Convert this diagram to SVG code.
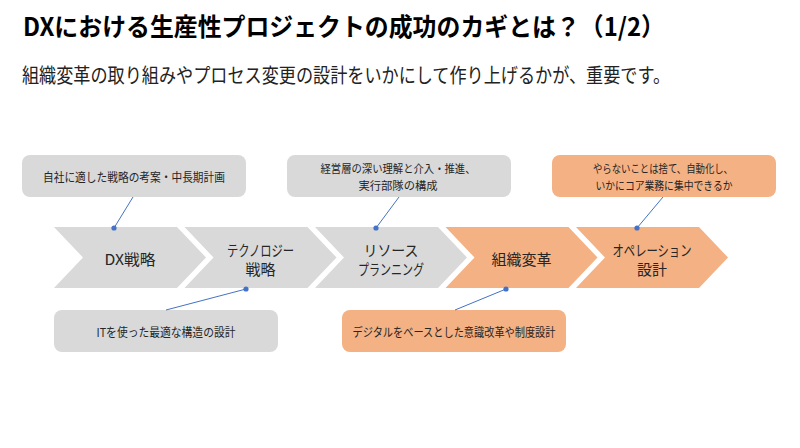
<svg xmlns="http://www.w3.org/2000/svg" width="800" height="448" viewBox="0 0 800 448">
<defs>
<style>
.jp{font-family:"Noto Sans CJK JP","Noto Sans",sans-serif;}
.title{font-size:25px;font-weight:bold;fill:#000;}
.sub{font-size:20px;fill:#222;}
.chv{font-size:15px;fill:#262626;text-anchor:middle;dominant-baseline:central;}
.box{font-size:12px;fill:#262626;text-anchor:middle;dominant-baseline:central;}
.box2{font-size:11.5px;}
.g{fill:#D9D9D9;}
.o{fill:#F4B183;}
.ln{stroke:#4472C4;stroke-width:1;fill:none;}
.dot{fill:#4472C4;}
</style>
</defs>
<rect width="800" height="448" fill="#fff"/>
<text class="jp title" x="23" y="36" textLength="642" lengthAdjust="spacingAndGlyphs">DXにおける生産性プロジェクトの成功のカギとは？（1/2）</text>
<text class="jp sub" x="22" y="83" textLength="648" lengthAdjust="spacingAndGlyphs">組織変革の取り組みやプロセス変更の設計をいかにして作り上げるかが、重要です。</text>

<g id="step1">
<polygon class="g" points="54,227 177,227 206,257.5 177,288 54,288 83,257.5"/>
<text class="jp chv" x="130" y="258" textLength="51" lengthAdjust="spacingAndGlyphs">DX戦略</text>
</g>
<g id="step2">
<polygon class="g" points="184.5,227 307.5,227 336.5,257.5 307.5,288 184.5,288 213.5,257.5"/>
<text class="jp chv" x="260.5" y="249" textLength="67" lengthAdjust="spacingAndGlyphs">テクノロジー</text>
<text class="jp chv" x="260.5" y="268">戦略</text>
</g>
<g id="step3">
<polygon class="g" points="315,227 438,227 467,257.5 438,288 315,288 344,257.5"/>
<text class="jp chv" x="391" y="249" textLength="55" lengthAdjust="spacingAndGlyphs">リソース</text>
<text class="jp chv" x="391" y="268" textLength="66" lengthAdjust="spacingAndGlyphs">プランニング</text>
</g>
<g id="step4">
<polygon class="o" points="445.5,227 568.5,227 597.5,257.5 568.5,288 445.5,288 474.5,257.5"/>
<text class="jp chv" x="521.5" y="258">組織変革</text>
</g>
<g id="step5">
<polygon class="o" points="576,227 699,227 728,257.5 699,288 576,288 605,257.5"/>
<text class="jp chv" x="652" y="249" textLength="79" lengthAdjust="spacingAndGlyphs">オペレーション</text>
<text class="jp chv" x="652" y="268">設計</text>
</g>

<g id="note1">
<rect class="g" x="22" y="155" width="224" height="42" rx="8"/>
<text class="jp box" x="134" y="176" textLength="182" lengthAdjust="spacingAndGlyphs">自社に適した戦略の考案・中長期計画</text>
</g>
<g id="note2">
<rect class="g" x="287" y="155" width="224" height="42" rx="8"/>
<text class="jp box box2" x="398" y="168" textLength="155" lengthAdjust="spacingAndGlyphs">経営層の深い理解と介入・推進、</text>
<text class="jp box box2" x="398" y="185" textLength="79" lengthAdjust="spacingAndGlyphs">実行部隊の構成</text>
</g>
<g id="note3">
<rect class="o" x="552" y="155" width="224" height="42" rx="8"/>
<text class="jp box box2" x="663" y="168" textLength="140" lengthAdjust="spacingAndGlyphs">やらないことは捨て、自動化し、</text>
<text class="jp box box2" x="664" y="185" textLength="137" lengthAdjust="spacingAndGlyphs">いかにコア業務に集中できるか</text>
</g>
<g id="note4">
<rect class="g" x="54" y="310" width="224" height="42" rx="8"/>
<text class="jp box" x="166" y="331" textLength="139" lengthAdjust="spacingAndGlyphs">ITを使った最適な構造の設計</text>
</g>
<g id="note5">
<rect class="o" x="342" y="310" width="224" height="42" rx="8"/>
<text class="jp box" x="454" y="331" textLength="203" lengthAdjust="spacingAndGlyphs">デジタルをベースとした意識改革や制度設計</text>
</g>

<g id="connectors">
<line class="ln" x1="133" y1="197" x2="114" y2="228"/>
<circle class="dot" cx="114" cy="228" r="2.6"/>
<line class="ln" x1="399" y1="197" x2="376" y2="228"/>
<circle class="dot" cx="376" cy="228" r="2.6"/>
<line class="ln" x1="663" y1="197" x2="637" y2="228"/>
<circle class="dot" cx="637" cy="228" r="2.6"/>
<line class="ln" x1="246" y1="289" x2="166" y2="310"/>
<circle class="dot" cx="246" cy="289" r="2.6"/>
<line class="ln" x1="506" y1="289" x2="455" y2="310"/>
<circle class="dot" cx="506" cy="289" r="2.6"/>
</g>
</svg>
